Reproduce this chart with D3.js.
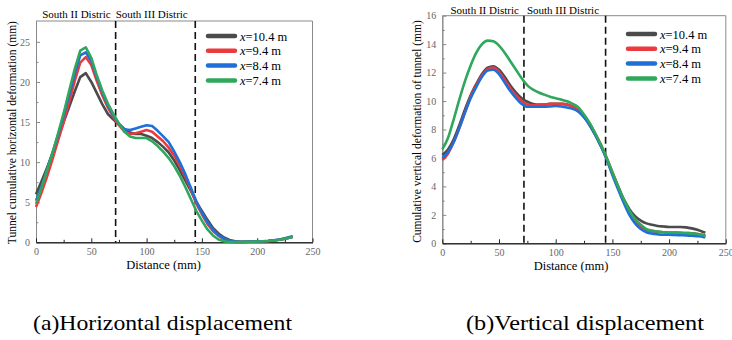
<!DOCTYPE html>
<html>
<head>
<meta charset="utf-8">
<script src="https://cdn.jsdelivr.net/npm/d3@7"></script>
<style>
  body { margin: 0; background: #fff; }
  svg { display: block; font-family: "Liberation Serif", "Times New Roman", serif; }
</style>
</head>
<body>
<script>
// distance along the tunnel (mm), shared by every series
const distance = [0, 5, 10, 15, 20, 25, 30, 35, 40, 45, 50, 55, 60, 65, 70, 75, 80, 85, 90, 95,
  100, 105, 110, 115, 120, 125, 130, 135, 140, 145, 150, 155, 160, 165, 170, 175, 180, 185, 190, 195,
  200, 205, 210, 215, 220, 225, 230, 232];

// (a) horizontal deformation
const hX104 = [6.0, 7.6, 9.3, 11.1, 13.0, 15.0, 16.9, 18.8, 20.6, 21.1, 20.0, 18.6, 17.2, 16.0, 15.3,
  14.7, 14.1, 13.7, 13.5, 13.5, 13.3, 13.0, 12.5, 11.9, 11.2, 10.2, 9.0, 7.7, 6.4, 5.0, 3.9, 2.8, 1.8,
  1.1, 0.6, 0.3, 0.12, 0.06, 0.06, 0.08, 0.1, 0.13, 0.17, 0.23, 0.32, 0.45, 0.6, 0.68];
const hX94 = [4.4, 6.2, 8.2, 10.4, 12.7, 15.0, 17.5, 20.1, 22.4, 23.1, 22.1, 20.1, 18.3, 16.8, 15.6,
  14.6, 13.8, 13.5, 13.6, 13.8, 14.0, 13.8, 13.2, 12.6, 11.8, 10.8, 9.6, 8.2, 6.6, 4.8, 3.5, 2.3, 1.4,
  0.8, 0.4, 0.15, 0.05, 0.04, 0.06, 0.08, 0.1, 0.13, 0.17, 0.23, 0.32, 0.45, 0.6, 0.68];
const hX84 = [5.2, 7.0, 9.1, 11.2, 13.4, 15.8, 18.4, 21.0, 23.3, 23.7, 22.6, 20.6, 18.7, 17.1, 15.8,
  14.8, 14.1, 14.0, 14.2, 14.4, 14.6, 14.5, 13.9, 13.2, 12.5, 11.3, 10.0, 8.5, 6.8, 5.1, 3.7, 2.5, 1.6,
  0.9, 0.45, 0.2, 0.08, 0.05, 0.06, 0.08, 0.1, 0.13, 0.18, 0.25, 0.35, 0.5, 0.68, 0.78];
const hX74 = [4.8, 6.8, 9.0, 11.2, 13.6, 16.1, 18.9, 21.6, 23.9, 24.3, 23.0, 20.8, 18.9, 17.3, 16.0,
  14.8, 13.8, 13.2, 13.0, 13.0, 13.0, 12.6, 12.0, 11.3, 10.5, 9.5, 8.3, 6.9, 5.4, 3.9, 2.7, 1.6, 0.85,
  0.35, 0.12, 0.04, 0.02, 0.03, 0.05, 0.07, 0.1, 0.13, 0.17, 0.23, 0.32, 0.45, 0.6, 0.7];

// (b) vertical deformation
const vX104 = [6.2, 6.6, 7.3, 8.3, 9.4, 10.4, 11.2, 11.9, 12.35, 12.45, 12.2, 11.7, 11.1, 10.6, 10.2,
  9.95, 9.8, 9.75, 9.75, 9.8, 9.8, 9.8, 9.75, 9.6, 9.3, 8.9, 8.3, 7.6, 6.8, 5.9, 4.9, 4.0, 3.1, 2.4, 1.9,
  1.6, 1.4, 1.3, 1.22, 1.18, 1.15, 1.15, 1.15, 1.12, 1.05, 0.95, 0.8, 0.75];
const vX94 = [5.85, 6.3, 7.1, 8.1, 9.2, 10.3, 11.1, 11.8, 12.25, 12.35, 12.05, 11.5, 10.9, 10.4, 10.0,
  9.75, 9.7, 9.7, 9.75, 9.8, 9.8, 9.8, 9.75, 9.6, 9.35, 8.95, 8.4, 7.7, 6.9, 6.0, 5.0, 4.0, 3.0, 2.2, 1.6,
  1.2, 0.95, 0.85, 0.8, 0.78, 0.75, 0.75, 0.74, 0.72, 0.7, 0.65, 0.58, 0.55];
const vX84 = [6.0, 6.4, 7.1, 8.1, 9.2, 10.2, 11.0, 11.7, 12.15, 12.2, 11.9, 11.3, 10.7, 10.2, 9.8,
  9.6, 9.6, 9.6, 9.6, 9.62, 9.65, 9.62, 9.55, 9.45, 9.25, 8.85, 8.3, 7.6, 6.8, 5.9, 4.8, 3.8, 2.85, 2.0,
  1.4, 1.0, 0.78, 0.68, 0.63, 0.6, 0.6, 0.58, 0.57, 0.56, 0.54, 0.5, 0.45, 0.42];
const vX74 = [6.6, 7.4, 8.7, 10.1, 11.4, 12.5, 13.4, 14.0, 14.25, 14.2, 13.9, 13.4, 12.8, 12.2, 11.6,
  11.1, 10.8, 10.6, 10.45, 10.3, 10.2, 10.1, 9.98, 9.8, 9.55, 9.05, 8.45, 7.7, 6.9, 6.0, 5.0, 4.0, 3.1,
  2.3, 1.7, 1.3, 1.0, 0.9, 0.82, 0.78, 0.76, 0.75, 0.74, 0.72, 0.7, 0.65, 0.56, 0.5];

const legendValues = ["10.4", "9.4", "8.4", "7.4"];
const seriesColours = ["#4b4b4b", "#ea3a3e", "#1f6fd8", "#2fa75c"];
const districtLabels = ["South II Distric", "South III Distric"];
const districtBounds = [72, 144];
const xTicks = [0, 50, 100, 150, 200, 250];

const width = 732;
const height = 340;

const svg = d3.select("body").append("svg").attr("width", width).attr("height", height);

const drawPanel = (cfg) => {
  const x = d3.scaleLinear().domain([0, 250]).range([cfg.left, cfg.right]);
  const y = d3.scaleLinear().domain([0, cfg.yMax]).range([cfg.bottom, cfg.top]);
  const g = svg.append("g");

  // frame: top and right in grey
  g.append("path")
    .attr("d", `M${cfg.left},${cfg.top}H${cfg.right}V${cfg.bottom}`)
    .attr("fill", "none")
    .attr("stroke", "#8a8a8a");

  const styleAxis = (colour) => (a) => {
    a.select(".domain").attr("stroke", colour);
    a.selectAll(".tick line").attr("stroke", colour);
    a.selectAll("text").attr("fill", "#666").attr("font-size", "10px").attr("font-family", "Liberation Serif, serif");
  };

  g.append("g")
    .attr("transform", `translate(${cfg.left},0)`)
    .call(d3.axisLeft(y).tickValues(cfg.yTicks).tickSize(-4).tickPadding(6).tickSizeOuter(0))
    .call(styleAxis("#888"));
  g.append("g")
    .attr("transform", `translate(${cfg.left},0)`)
    .call(d3.axisLeft(y).tickValues(cfg.yMinor).tickSize(-2.5).tickFormat("").tickSizeOuter(0))
    .call(styleAxis("#888"));

  g.append("g")
    .attr("transform", `translate(0,${cfg.bottom})`)
    .call(d3.axisBottom(x).tickValues(xTicks).tickSize(-4).tickPadding(6).tickSizeOuter(0))
    .call(styleAxis("#222"));
  g.append("g")
    .attr("transform", `translate(0,${cfg.bottom})`)
    .call(d3.axisBottom(x).tickValues(d3.range(25, 250, 50)).tickSize(-2.5).tickFormat("").tickSizeOuter(0))
    .call(styleAxis("#222"));

  // district boundaries
  g.selectAll(".bound")
    .data(districtBounds)
    .join("line")
    .attr("x1", (d) => x(d))
    .attr("x2", (d) => x(d))
    .attr("y1", cfg.top)
    .attr("y2", cfg.bottom)
    .attr("stroke", "#111")
    .attr("stroke-width", 1.6)
    .attr("stroke-dasharray", "7,4");

  const line = d3
    .line()
    .x((d) => x(d[0]))
    .y((d) => y(d[1]))
    .curve(cfg.curve);

  g.selectAll(".series")
    .data(cfg.series)
    .join("path")
    .attr("d", (s) => line(d3.zip(distance, s)))
    .attr("fill", "none")
    .attr("stroke", (_d, i) => seriesColours[i])
    .attr("stroke-width", 2.6)
    .attr("stroke-linejoin", "round");

  // district names above the plot
  g.append("text")
    .attr("x", x(districtBounds[0]) - 5)
    .attr("y", cfg.headerY)
    .attr("text-anchor", "end")
    .attr("font-size", "11px")
    .text(districtLabels[0]);
  g.append("text")
    .attr("x", x(districtBounds[0]) + cfg.headerGap)
    .attr("y", cfg.headerY)
    .attr("font-size", "11px")
    .text(districtLabels[1]);

  // legend
  const legend = g
    .selectAll(".legend")
    .data(legendValues)
    .join("g")
    .attr("transform", (_d, i) => `translate(${cfg.legendX},${cfg.legendY + i * 14.8})`);
  legend
    .append("line")
    .attr("x2", 27)
    .attr("stroke", (_d, i) => seriesColours[i])
    .attr("stroke-width", 4.5)
    .attr("stroke-linecap", "round");
  const lt = legend.append("text").attr("x", 32).attr("y", 4.5).attr("font-size", "12.5px");
  lt.append("tspan").attr("font-style", "italic").text("x");
  lt.append("tspan").text((d) => `=${d} m`);

  // axis titles
  g.append("text")
    .attr("transform", `translate(${cfg.yLabelX},${(cfg.top + cfg.bottom) / 2 + cfg.yLabelShift}) rotate(-90)`)
    .attr("text-anchor", "middle")
    .attr("font-size", "11.5px")
    .text(cfg.yLabel);
  g.append("text")
    .attr("x", cfg.xLabelX)
    .attr("y", cfg.xLabelY)
    .attr("text-anchor", "middle")
    .attr("font-size", "12.5px")
    .text("Distance  (mm)");

  // caption
  svg.append("text")
    .attr("x", cfg.captionX)
    .attr("y", 330)
    .attr("font-size", "22px")
    .attr("textLength", cfg.captionWidth)
    .attr("lengthAdjust", "spacingAndGlyphs")
    .text(cfg.caption);
};

drawPanel({
  left: 36, right: 312.5, top: 21, bottom: 242.3, yMax: 27.6,
  yTicks: [0, 5, 10, 15, 20, 25], yMinor: d3.range(2.5, 27.5, 5),
  series: [hX104, hX94, hX84, hX74], curve: d3.curveLinear,
  headerY: 17.5, headerGap: 0,
  legendX: 208, legendY: 36,
  yLabel: "Tunnel cumulative horizontal deformation (mm)", yLabelX: 16, yLabelShift: 1,
  xLabelX: 163.5, xLabelY: 269,
  caption: "(a)Horizontal displacement", captionX: 33, captionWidth: 259,
});

drawPanel({
  left: 442.3, right: 725.8, top: 15.7, bottom: 243.3, yMax: 16,
  yTicks: d3.range(0, 17, 2), yMinor: d3.range(1, 16, 2),
  series: [vX104, vX94, vX84, vX74], curve: d3.curveMonotoneX,
  headerY: 13.5, headerGap: 3,
  legendX: 628, legendY: 34,
  yLabel: "Cumulative vertical deformation of tunnel (mm)", yLabelX: 421, yLabelShift: 2,
  xLabelX: 571, xLabelY: 270,
  caption: "(b)Vertical displacement", captionX: 466, captionWidth: 238,
});
</script>
</body>
</html>
